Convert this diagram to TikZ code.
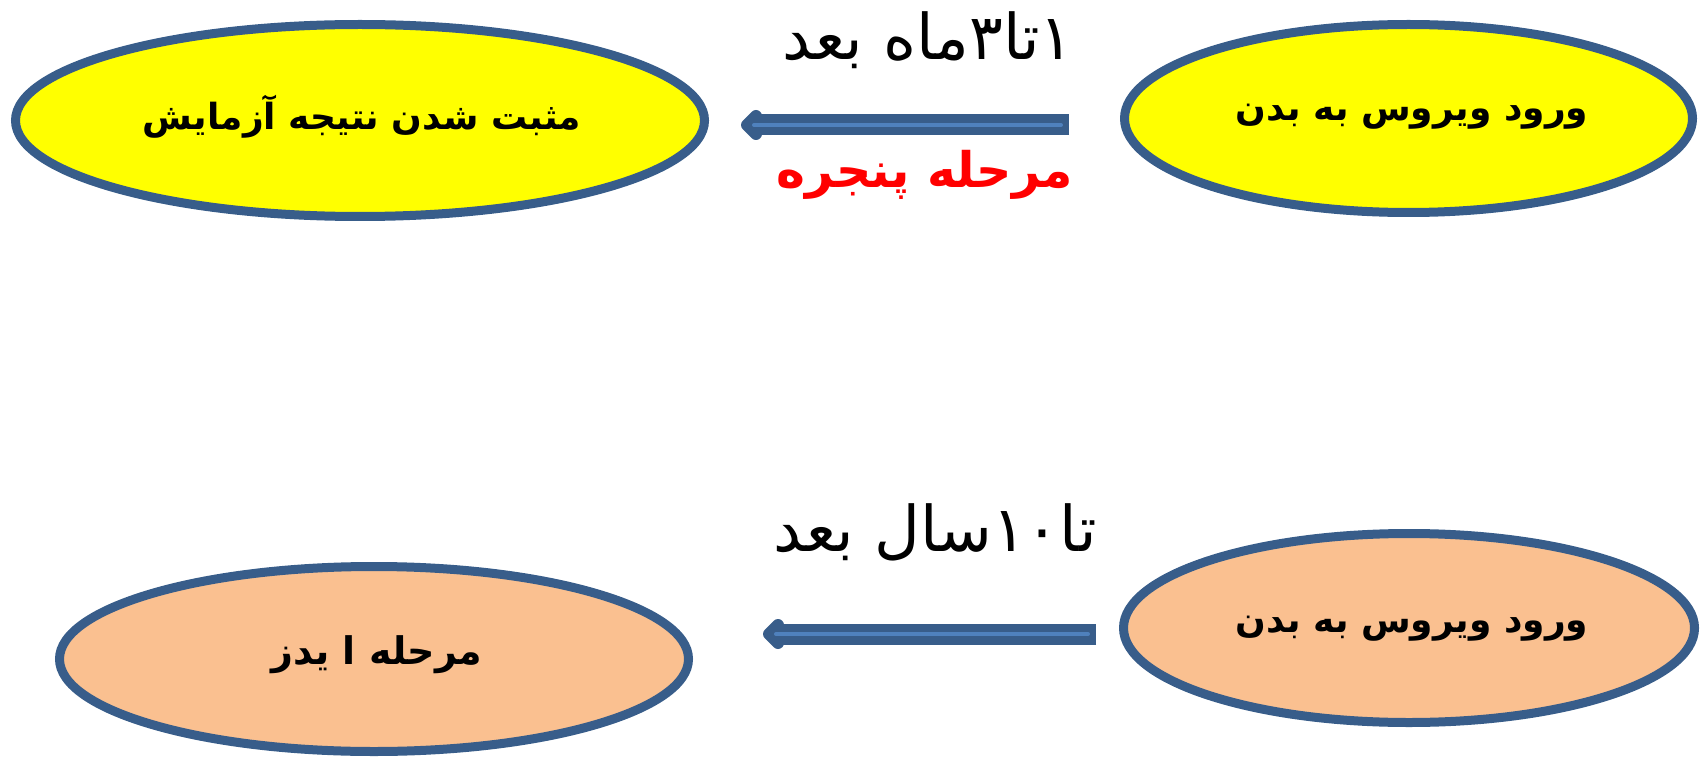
\documentclass[tikz,border=0pt]{standalone}
\usepackage{fontspec}
\newfontfamily\arabicfont[Script=Arabic]{DejaVu Sans}
\TeXXeTstate=1
\usetikzlibrary{shapes.geometric,calc}
\definecolor{edgeblue}{HTML}{385D8A}
\definecolor{lightblue}{HTML}{4F81BD}
\definecolor{peach}{HTML}{FAC090}
\definecolor{yel}{HTML}{FFFF00}
\tikzset{
  oval/.style={ellipse, draw=edgeblue, line width=9pt, inner sep=0pt},
  ovallabel/.style={font=\arabicfont\bfseries\fontsize{36}{40}\selectfont},
  timelabel/.style={font=\arabicfont\fontsize{63}{70}\selectfont, text=black},
  shaft/.style={draw=edgeblue, line width=21pt},
  barb/.style={draw=edgeblue, line width=12pt, line cap=round, line join=round},
  core/.style={draw=lightblue, line width=4pt, line cap=round}
}
\begin{document}
\begin{tikzpicture}[x=1pt,y=-1pt]
\useasboundingbox (0,0) rectangle (1704,759);
% ovals
\node[oval, fill=yel, minimum width=689pt, minimum height=192pt] (tl) at (360,120.5) {};
\node[oval, fill=yel, minimum width=568pt, minimum height=188pt] (tr) at (1408.5,118.5) {};
\node[oval, fill=peach, minimum width=629pt, minimum height=185pt] (bl) at (374,659) {};
\node[oval, fill=peach, minimum width=571pt, minimum height=189pt] (br) at (1409,628) {};
% labels in ovals
\node[ovallabel] (tlt) at (362,117) {\beginR مثبت شدن نتیجه آزمایش\endR};
\node[ovallabel] (trt) at (1412,117) {\beginR ورود ویروس به بدن\endR};
\node[ovallabel] (brt) at (1412,629) {\beginR ورود ویروس به بدن\endR};
\node[ovallabel, font=\arabicfont\bfseries\fontsize{38}{42}\selectfont] (blt) at (377,655) {\beginR مرحله ا یدز\endR};
% time labels
\node[timelabel] (t1) at (928,40) {\beginR ۱تا۳ماه بعد\endR};
\node[timelabel, text=red, font=\arabicfont\bfseries\fontsize{49}{54}\selectfont] (t1b) at (925,175) {\beginR مرحله پنجره\endR};
\node[timelabel] (t2) at (935,532) {\beginR تا۱۰سال بعد\endR};
% arrows
\coordinate (a1s) at ($(tr.west)+(-51,6.5)$);
\coordinate (a1e) at ($(tl.east)+(32,4.5)$);
\coordinate (a2s) at ($(br.west)+(-23,6)$);
\coordinate (a2e) at ($(bl.east)+(70,-25)$);
\foreach \s/\e in {a1s/a1e, a2s/a2e}{
  \draw[shaft] (\s) -- ($(\e)+(14,0)$);
  \draw[barb] ($(\e)+(15,-9)$) -- ($(\e)+(6,0)$) -- ($(\e)+(15,9)$);
  \draw[core] ($(\s)+(-8,0)$) -- ($(\e)+(13,0)$);
}
\end{tikzpicture}
\end{document}
